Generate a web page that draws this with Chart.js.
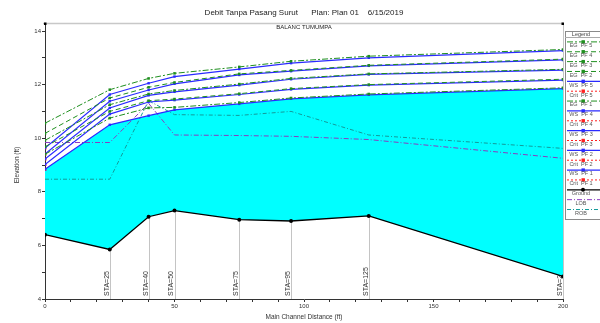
<!DOCTYPE html>
<html><head><meta charset="utf-8">
<script src="https://cdn.jsdelivr.net/npm/chart.js@4.4.0/dist/chart.umd.min.js"></script>
<style>html,body{margin:0;padding:0;background:#fff;}</style>
</head><body>
<canvas id="c" width="600" height="323"></canvas>
<script>
const titleText = 'Debit Tanpa Pasang Surut      Plan: Plan 01    6/15/2019';
const reachName = 'BALANC TUMUMPA';
const xTitle = 'Main Channel Distance (ft)';
const yTitle = 'Elevation (ft)';
const legendTitle = 'Legend';

const stations = [0, 25, 40, 50, 75, 95, 125, 200];
const stationLabels = ['', 'STA=25', 'STA=40', 'STA=50', 'STA=75', 'STA=95', 'STA=125', 'STA=200'];
const xTickLabels = [0, 50, 100, 150, 200];
const yTickLabels = [4, 6, 8, 10, 12, 14];

const ground = [6.40, 5.85, 7.07, 7.30, 6.96, 6.91, 7.10, 4.84];
const wsPF1 = [8.84, 10.50, 10.84, 11.06, 11.28, 11.47, 11.62, 11.85];
const wsPF2 = [9.02, 10.90, 11.35, 11.42, 11.63, 11.82, 11.98, 12.17];
const wsPF3 = [9.22, 11.13, 11.60, 11.73, 11.98, 12.20, 12.38, 12.54];
const wsPF4 = [9.41, 11.38, 11.80, 12.03, 12.36, 12.50, 12.70, 12.92];
const wsPF5 = [9.63, 11.63, 12.05, 12.30, 12.58, 12.80, 13.00, 13.27];
const egPF1 = [9.40, 10.75, 11.13, 11.15, 11.33, 11.50, 11.65, 11.88];
const egPF2 = [9.68, 11.00, 11.40, 11.46, 11.66, 11.85, 12.00, 12.20];
const egPF3 = [9.92, 11.25, 11.65, 11.78, 12.02, 12.23, 12.40, 12.57];
const egPF4 = [10.18, 11.50, 11.90, 12.08, 12.40, 12.53, 12.72, 12.95];
const egPF5 = [10.56, 11.81, 12.23, 12.42, 12.66, 12.87, 13.06, 13.31];
const critPF1 = [8.84, null, null, null, null, null, null, null];
const critPF2 = [9.02, null, null, null, null, null, null, null];
const critPF3 = [9.22, null, null, null, null, null, null, null];
const critPF4 = [9.41, null, null, null, null, null, null, null];
const critPF5 = [9.63, null, null, null, null, null, null, null];
const lob = [9.84, 9.84, 11.30, 10.12, 10.10, 10.07, 9.95, 9.25];
const rob = [8.47, 8.47, 11.40, 10.88, 10.85, 11.00, 10.12, 9.62];

const FONT = '"Liberation Sans", Arial, sans-serif';
const EG_C = '#1f8f1f', WS_C = '#2a2aff', CR_C = '#ff2020';

function pts(arr) { return stations.map((s, i) => ({x: s, y: arr[i]})); }
function eg(label, arr, dash) {
  return {label, data: pts(arr), borderColor: EG_C, backgroundColor: EG_C, borderWidth: 1, borderDash: dash,
    pointStyle: 'rect', pointRadius: 1.8, pointBorderWidth: 0, pointBackgroundColor: EG_C, fill: false};
}
function ws(label, arr) {
  return {label, data: pts(arr), borderColor: WS_C, backgroundColor: WS_C, borderWidth: 1.2, borderDash: [],
    pointStyle: 'rect', pointRadius: 1.7, pointBorderWidth: 0, pointBackgroundColor: WS_C, fill: false};
}
function cr(label, arr) {
  return {label, data: pts(arr), borderColor: CR_C, backgroundColor: CR_C, borderWidth: 1, borderDash: [2, 2],
    pointStyle: 'rect', pointRadius: 2, pointBorderWidth: 0, pointBackgroundColor: CR_C, fill: false};
}

const datasets = [
  eg('EG  PF 5', egPF5, [6, 2, 2, 2]),
  eg('EG  PF 4', egPF4, [5, 3]),
  eg('EG  PF 3', egPF3, [6, 2, 2, 2]),
  eg('EG  PF 2', egPF2, [5, 3]),
  ws('WS  PF 5', wsPF5),
  cr('Crit  PF 5', critPF5),
  eg('EG  PF 1', egPF1, [6, 2, 2, 2]),
  ws('WS  PF 4', wsPF4),
  cr('Crit  PF 4', critPF4),
  ws('WS  PF 3', wsPF3),
  cr('Crit  PF 3', critPF3),
  ws('WS  PF 2', wsPF2),
  cr('Crit  PF 2', critPF2),
  ws('WS  PF 1', wsPF1),
  cr('Crit  PF 1', critPF1),
  {label: 'Ground', data: pts(ground), borderColor: '#000', backgroundColor: '#000', borderWidth: 1.3, borderDash: [],
    pointStyle: 'circle', pointRadius: 2, pointBorderWidth: 0, pointBackgroundColor: '#000', fill: false},
  {label: 'LOB', data: pts(lob), borderColor: '#8a3cc0', backgroundColor: '#8a3cc0', borderWidth: 1, borderDash: [5, 2, 1, 2],
    pointRadius: 0, fill: false},
  {label: 'ROB', data: pts(rob), borderColor: '#139a9a', backgroundColor: '#139a9a', borderWidth: 1, borderDash: [4, 2, 1, 2],
    pointRadius: 0, fill: false}
];
const groundIdx = datasets.findIndex(d => d.label === 'Ground');
const ws1 = datasets.find(d => d.label === 'WS  PF 1');
ws1.fill = {target: groundIdx};
ws1.backgroundColor = '#00ffff';

const decor = {
  id: 'decor',
  beforeDraw(chart) {
    const {ctx, chartArea: a, scales: {x, y}} = chart;
    ctx.save();
    ctx.fillStyle = '#fff';
    ctx.fillRect(0, 0, chart.width, chart.height);
    // station lines
    ctx.strokeStyle = '#c4c4c4';
    ctx.lineWidth = 1;
    stations.forEach((s, i) => {
      if (!stationLabels[i]) return;
      const px = Math.round(x.getPixelForValue(s)) + 0.5;
      ctx.beginPath();
      ctx.moveTo(px, y.getPixelForValue(ground[i]));
      ctx.lineTo(px, a.bottom);
      ctx.stroke();
    });
    // right boundary
    ctx.beginPath();
    ctx.moveTo(Math.round(a.right) + 0.5, 23.5);
    ctx.lineTo(Math.round(a.right) + 0.5, a.bottom);
    ctx.stroke();
    // station labels
    ctx.fillStyle = '#333';
    ctx.font = '7px ' + FONT;
    ctx.textAlign = 'left';
    ctx.textBaseline = 'middle';
    stations.forEach((s, i) => {
      if (!stationLabels[i]) return;
      const px = x.getPixelForValue(s) - 3;
      ctx.save();
      ctx.translate(px, a.bottom - 3);
      ctx.rotate(-Math.PI / 2);
      ctx.fillText(stationLabels[i], 0, 0);
      ctx.restore();
    });
    // reach line
    ctx.strokeStyle = '#c8c8c8';
    ctx.lineWidth = 1.5;
    ctx.beginPath();
    ctx.moveTo(a.left - 2, 23.5);
    ctx.lineTo(a.right, 23.5);
    ctx.stroke();
    // axis extension
    ctx.strokeStyle = '#333';
    ctx.lineWidth = 1;
    ctx.beginPath();
    ctx.moveTo(Math.round(a.left) + 0.5, 23);
    ctx.lineTo(Math.round(a.left) + 0.5, a.top);
    ctx.stroke();
    ctx.fillStyle = '#000';
    ctx.fillRect(a.left - 1, 22.5, 2.5, 2.5);
    ctx.fillRect(a.right - 1.5, 22.5, 2.5, 2.5);
    // titles
    const cx = (a.left + a.right) / 2;
    ctx.fillStyle = '#222';
    ctx.textAlign = 'center';
    ctx.font = '8px ' + FONT;
    ctx.fillText(titleText, cx, 13);
    ctx.font = '6px ' + FONT;
    ctx.fillText(reachName, cx, 27.5);
    ctx.restore();
  },
  afterDraw(chart) {
    const {ctx} = chart;
    const lx = 565, ly = 31, lw = 40, lh = 188;
    ctx.save();
    ctx.fillStyle = '#fff';
    ctx.fillRect(lx, ly, lw, lh);
    ctx.strokeStyle = '#8a8a8a';
    ctx.lineWidth = 1;
    ctx.strokeRect(lx + 0.5, ly + 0.5, lw, lh);
    ctx.fillStyle = '#444';
    ctx.font = '5.5px ' + FONT;
    ctx.textAlign = 'center';
    ctx.textBaseline = 'middle';
    ctx.fillText(legendTitle, 581, 34.3);
    ctx.strokeStyle = '#aaa';
    ctx.beginPath();
    ctx.moveTo(lx, 37.5);
    ctx.lineTo(lx + lw, 37.5);
    ctx.stroke();
    chart.data.datasets.forEach((d, i) => {
      const labelY = 45.7 + i * 9.86;
      const lineY = labelY - 3.8;
      ctx.save();
      ctx.strokeStyle = d.borderColor;
      ctx.lineWidth = d.borderWidth;
      ctx.setLineDash(d.borderDash || []);
      ctx.beginPath();
      ctx.moveTo(lx + 2, lineY);
      ctx.lineTo(lx + lw, lineY);
      ctx.stroke();
      ctx.restore();
      if (d.pointRadius > 0) {
        ctx.fillStyle = d.pointBackgroundColor;
        if (d.pointStyle === 'circle') {
          ctx.beginPath();
          ctx.arc(583, lineY, 2, 0, Math.PI * 2);
          ctx.fill();
        } else {
          ctx.fillRect(581.5, lineY - 1.7, 3.4, 3.4);
        }
      }
      ctx.fillStyle = '#555';
      ctx.fillText(d.label, 581, labelY);
    });
    ctx.restore();
  }
};

new Chart(document.getElementById('c'), {
  type: 'line',
  data: {datasets},
  options: {
    responsive: false,
    animation: false,
    parsing: true,
    layout: {padding: {left: 0, right: 37, top: 31, bottom: 0}},
    plugins: {
      legend: {display: false},
      tooltip: {enabled: false},
      title: {display: false},
      filler: {drawTime: 'beforeDatasetsDraw'}
    },
    scales: {
      x: {
        type: 'linear', min: 0, max: 200,
        border: {color: '#333', width: 1},
        grid: {drawOnChartArea: false, drawTicks: true, tickLength: 3, color: '#333'},
        ticks: {stepSize: 10, autoSkip: false, maxRotation: 0, padding: 1, color: '#333',
          font: {size: 6, family: FONT},
          callback: v => xTickLabels.includes(v) ? String(v) : ''},
        title: {display: true, text: xTitle, color: '#333', font: {size: 6.5, family: FONT}, padding: {top: 0, bottom: 2}},
        afterFit: s => { s.height = 24; }
      },
      y: {
        type: 'linear', min: 4, max: 14,
        border: {color: '#333', width: 1},
        grid: {drawOnChartArea: false, drawTicks: true, tickLength: 3, color: '#333'},
        ticks: {stepSize: 1, autoSkip: false, padding: 1, color: '#333',
          font: {size: 6, family: FONT},
          callback: v => yTickLabels.includes(v) ? String(v) : ''},
        title: {display: true, text: yTitle, color: '#333', font: {size: 6.5, family: FONT}, padding: {top: 13, bottom: 0}},
        afterFit: s => { s.width = 45; }
      }
    }
  },
  plugins: [decor]
});
</script>
</body></html>
